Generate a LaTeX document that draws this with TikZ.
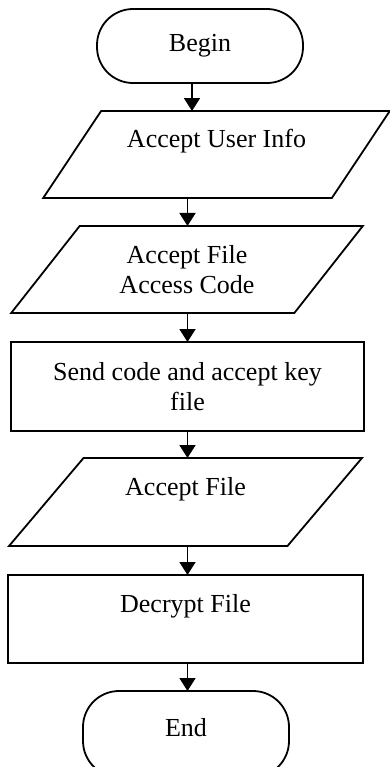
\documentclass[tikz,border=0pt]{standalone}
\usepackage{fontspec}
\setmainfont{Liberation Serif}
\usetikzlibrary{shapes.geometric, arrows.meta}

\begin{document}
\begin{tikzpicture}[x=0.5pt, y=-0.5pt, line width=0.9pt,
    every node/.style={draw, fill=white, outer sep=0pt, inner sep=2pt, align=center, font=\fontsize{13}{15}\selectfont},
    terminal/.style={rectangle, rounded corners=18pt, minimum width=103pt},
    inout/.style={trapezium, trapezium left angle=51, trapezium right angle=129, trapezium stretches=true, minimum height=43.5pt},
    process/.style={rectangle, minimum height=44.5pt},
    high/.style={text height=9pt, text depth=16pt},
    arr/.style={-{Triangle[width=8pt, length=6.5pt]}}]
                \useasboundingbox (0,0) rectangle (390,767);
                \node[terminal, minimum height=37pt] (begin) at (200,46) {Begin};
                \node[inout, high, minimum width=173.5pt] (user) at (216.5,154.5) {Accept User Info};
                \node[inout, minimum width=176pt] (code) at (187,269.5) {Accept File\\Access Code};
                \node[process, minimum width=176.5pt] (send) at (187.5,386.5) {Send code and accept key\\file};
                \node[inout, high, minimum width=176.5pt, minimum height=44pt] (file) at (185.5,502) {Accept File};
                \node[process, high, minimum width=177.5pt, minimum height=44pt] (decrypt) at (185.5,619) {Decrypt File};
                \node[terminal, minimum height=43pt, anchor=north, text height=9pt, text depth=7pt] (end) at (186,691) {End};
                \draw[arr] ([xshift=-4pt]begin.south) -- ([xshift=-4pt]begin.south |- user.north);
                \draw[arr] (user.south -| send) -- (code.north -| send);
                \draw[arr] (code.south -| send) -- (send.north);
                \draw[arr] (send.south) -- (file.north -| send);
                \draw[arr] (file.south -| send) -- (decrypt.north -| send);
                \draw[arr] (decrypt.south -| send) -- (end.north -| send);
                \end{tikzpicture}
\end{document}
